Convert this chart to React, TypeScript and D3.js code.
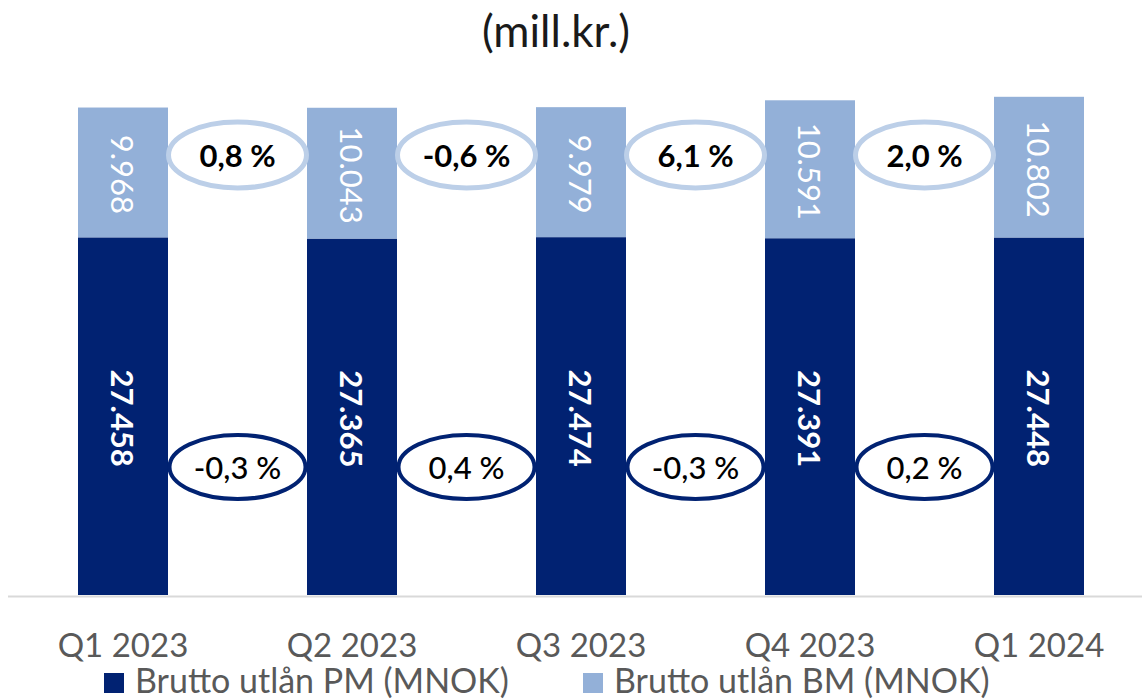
import React from "react";
import * as d3 from "d3";

const categories = ["Q1 2023", "Q2 2023", "Q3 2023", "Q4 2023", "Q1 2024"];
const pmValues = [27458, 27365, 27474, 27391, 27448];
const bmValues = [9968, 10043, 9979, 10591, 10802];
const bmChanges = [0.8, -0.6, 6.1, 2.0];
const pmChanges = [-0.3, 0.4, -0.3, 0.2];
const seriesNames = ["Brutto utlån PM (MNOK)", "Brutto utlån BM (MNOK)"];
const title = "(mill.kr.)";

const W = 1142;
const H = 699;
const DARK = "#012272";
const LIGHT = "#93b0d8";
const LIGHT_RING = "#bccfe8";
const GREY = "#595959";
const FONT = "Lato, 'Open Sans', sans-serif";

const locale = d3.formatLocale({
  decimal: ",",
  thousands: ".",
  grouping: [3],
  currency: ["", " kr"],
  minus: "-",
});
const fmtInt = locale.format(",d");
const fmtPct = (v: number) => locale.format(".1f")(v) + " %";

export default function App() {
  const x = d3
    .scaleBand<string>()
    .domain(categories)
    .range([8.5, 1153.5])
    .paddingInner(0.607)
    .paddingOuter(0.3035);
  const y = d3.scaleLinear().domain([0, 40000]).range([595, 74]);

  const stackData = categories.map((c, i) => ({ cat: c, pm: pmValues[i], bm: bmValues[i] }));
  const stack = d3.stack<any>().keys(["pm", "bm"])(stackData);
  const colors = [DARK, LIGHT];

  const bw = x.bandwidth();
  const center = (c: string) => (x(c) as number) + bw / 2;

  const lightY = 155;
  const darkY = 467;

  return (
    <svg width={W} height={H} style={{ position: "absolute", left: 0, top: 0 }}>
      <rect width={W} height={H} fill="#fff" />
      <text x={556} y={47} textAnchor="middle" fontFamily={FONT} fontSize={44} fill="#1a1a1a">
        {title}
      </text>

      {stack.map((layer, li) => (
        <g key={li}>
          {layer.map((d, i) => (
            <rect
              key={i}
              x={x(categories[i])}
              y={y(d[1])}
              width={bw}
              height={y(d[0]) - y(d[1])}
              fill={colors[li]}
            />
          ))}
        </g>
      ))}

      <line x1={8} x2={W} y1={596.5} y2={596.5} stroke="#d9d9d9" strokeWidth={2} />

      {stack.map((layer, li) =>
        layer.map((d, i) => {
          const cx = center(categories[i]);
          const cy = (y(d[0]) + y(d[1])) / 2 + 2;
          const val = li === 0 ? pmValues[i] : bmValues[i];
          return (
            <text
              key={`${li}-${i}`}
              transform={`translate(${cx},${cy}) rotate(90)`}
              textAnchor="middle"
              dominantBaseline="central"
              fontFamily={FONT}
              fontSize={31}
              fontWeight={li === 0 ? 700 : 400}
              fill="#fff"
            >
              {fmtInt(val)}
            </text>
          );
        })
      )}

      {bmChanges.map((v, i) => {
        const cx = (center(categories[i]) + center(categories[i + 1])) / 2;
        return (
          <g key={`b${i}`}>
            <ellipse cx={cx} cy={lightY} rx={69} ry={33} fill="#fff" stroke={LIGHT_RING} strokeWidth={5} />
            <text
              x={cx}
              y={lightY}
              textAnchor="middle"
              dominantBaseline="central"
              fontFamily={FONT}
              fontSize={31}
              fontWeight={700}
              fill="#000"
            >
              {fmtPct(v)}
            </text>
          </g>
        );
      })}

      {pmChanges.map((v, i) => {
        const cx = (center(categories[i]) + center(categories[i + 1])) / 2;
        return (
          <g key={`p${i}`}>
            <ellipse cx={cx} cy={darkY} rx={68} ry={32} fill="#fff" stroke={DARK} strokeWidth={4} />
            <text
              x={cx}
              y={darkY}
              textAnchor="middle"
              dominantBaseline="central"
              fontFamily={FONT}
              fontSize={31}
              fontWeight={500}
              fill="#000"
            >
              {fmtPct(v)}
            </text>
          </g>
        );
      })}

      {categories.map((c) => (
        <text key={c} x={center(c)} y={657} textAnchor="middle" fontFamily={FONT} fontSize={33} fill={GREY}>
          {c}
        </text>
      ))}

      {seriesNames.map((s, i) => {
        const lx = i === 0 ? 104 : 583;
        return (
          <g key={s}>
            <rect x={lx} y={673} width={20} height={20} fill={colors[i]} />
            <text x={lx + 31} y={693} fontFamily={FONT} fontSize={34} fill={GREY}>
              {s}
            </text>
          </g>
        );
      })}
    </svg>
  );
}
